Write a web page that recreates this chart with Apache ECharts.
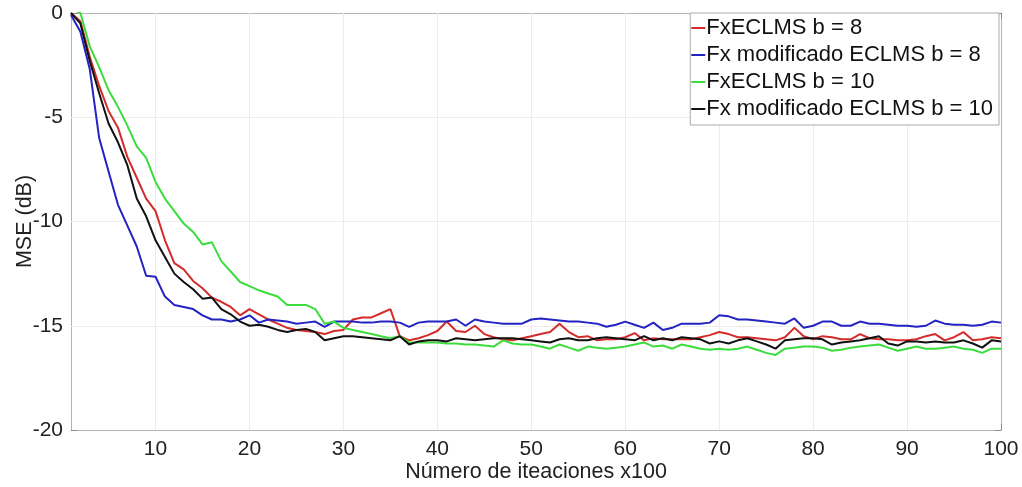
<!DOCTYPE html>
<html>
<head>
<meta charset="utf-8">
<script src="https://cdn.jsdelivr.net/npm/echarts@6/dist/echarts.min.js"></script>
<style>
  html, body { margin: 0; padding: 0; background: #fff; }
  #chart { width: 1022px; height: 487px; }
</style>
</head>
<body>
<div id="chart"></div>
<script>
// iteraciones (x100)
const iterations = Array.from({ length: 100 }, (_, i) => i + 1);
const xTicks = [10, 20, 30, 40, 50, 60, 70, 80, 90, 100];
const yTicks = [0, -5, -10, -15, -20];

const seriesNames = [
  'FxECLMS b = 8',
  'Fx modificado ECLMS b = 8',
  'FxECLMS b = 10',
  'Fx modificado ECLMS b = 10'
];

// MSE (dB)
const fxB8 = [
  0, -0.4, -2.1, -3.5, -4.7, -5.5, -6.9, -7.9, -8.9, -9.5,
  -10.9, -12.0, -12.3, -12.85, -13.2, -13.65, -13.85, -14.1, -14.5, -14.2,
  -14.45, -14.7, -14.9, -15.1, -15.2, -15.25, -15.3, -15.4, -15.25, -15.2,
  -14.7, -14.6, -14.6, -14.4, -14.2, -15.5, -15.7, -15.6, -15.45, -15.25,
  -14.8, -15.25, -15.3, -15.0, -15.4, -15.55, -15.65, -15.7, -15.6, -15.5,
  -15.4, -15.3, -14.9, -15.3, -15.55, -15.5, -15.7, -15.65, -15.65, -15.55,
  -15.35, -15.7, -15.6, -15.65, -15.65, -15.65, -15.65, -15.55, -15.45, -15.3,
  -15.4, -15.55, -15.55, -15.6, -15.65, -15.7, -15.55, -15.1, -15.5, -15.65,
  -15.5, -15.55, -15.65, -15.65, -15.4, -15.6, -15.65, -15.65, -15.7, -15.7,
  -15.65, -15.5, -15.4, -15.7, -15.55, -15.3, -15.7, -15.65, -15.55, -15.6
];
const modB8 = [
  -0.1, -0.9, -2.7, -6.0, -7.6, -9.2, -10.2, -11.2, -12.6, -12.65,
  -13.6, -14.0, -14.1, -14.2, -14.5, -14.7, -14.7, -14.8, -14.7, -14.5,
  -14.85, -14.7, -14.75, -14.8, -14.9, -14.85, -14.8, -15.05, -14.8, -14.8,
  -14.8, -14.85, -14.85, -14.8, -14.8, -14.85, -15.05, -14.85, -14.8, -14.8,
  -14.8, -14.7, -15.0, -14.7, -14.8, -14.85, -14.9, -14.9, -14.9, -14.7,
  -14.65, -14.7, -14.75, -14.8, -14.8, -14.85, -14.9, -15.05, -14.95, -14.8,
  -14.95, -15.1, -14.85, -15.2, -15.1, -14.9, -14.9, -14.9, -14.85, -14.5,
  -14.55, -14.7, -14.7, -14.75, -14.8, -14.85, -14.9, -14.65, -15.1, -15.0,
  -14.8, -14.8, -15.0, -15.0, -14.8, -14.9, -14.9, -14.95, -15.0, -15.0,
  -15.05, -15.0, -14.75, -14.9, -14.95, -14.95, -15.0, -14.95, -14.8, -14.85
];
const fxB10 = [
  0.2, 0.0, -1.6, -2.6, -3.7, -4.5, -5.4, -6.4, -6.95, -8.1,
  -8.9, -9.5, -10.1, -10.5, -11.1, -11.0, -11.9, -12.4, -12.9, -13.1,
  -13.3, -13.45, -13.6, -14.0, -14.0, -14.0, -14.2, -14.9, -14.8, -15.1,
  -15.2, -15.3, -15.4, -15.5, -15.6, -15.5, -15.8, -15.8, -15.8, -15.8,
  -15.85, -15.85, -15.9, -15.9, -15.95, -16.0, -15.7, -15.85, -15.9, -15.9,
  -16.0, -16.1, -15.9, -16.05, -16.2, -16.0, -16.05, -16.1, -16.05, -16.0,
  -15.9, -15.8, -16.0, -15.95, -16.1, -15.9, -16.0, -16.1, -16.15, -16.1,
  -16.15, -16.1, -16.0, -16.15, -16.3, -16.4, -16.1, -16.05, -16.0, -16.0,
  -16.05, -16.2, -16.15, -16.05, -16.0, -15.95, -15.9, -16.05, -16.2, -16.1,
  -16.0, -16.1, -16.1, -16.05, -16.0, -16.1, -16.15, -16.3, -16.1, -16.1
];
const modB10 = [
  0, -0.5, -2.3, -3.85, -5.3, -6.2, -7.3, -8.9, -9.75, -10.9,
  -11.7, -12.5, -12.9, -13.25, -13.7, -13.65, -14.2, -14.45, -14.8, -15.0,
  -14.95, -15.05, -15.2, -15.3, -15.2, -15.15, -15.3, -15.7, -15.6, -15.5,
  -15.5, -15.55, -15.6, -15.65, -15.7, -15.5, -15.9, -15.75, -15.7, -15.7,
  -15.75, -15.6, -15.65, -15.7, -15.65, -15.6, -15.6, -15.6, -15.65, -15.7,
  -15.75, -15.8, -15.65, -15.6, -15.7, -15.7, -15.6, -15.55, -15.6, -15.65,
  -15.7, -15.5, -15.7, -15.6, -15.7, -15.55, -15.6, -15.65, -15.85, -15.75,
  -15.85, -15.7, -15.6, -15.75, -15.9, -16.1, -15.7, -15.65, -15.6, -15.6,
  -15.65, -15.9, -15.8, -15.75, -15.7, -15.6, -15.5, -15.85, -15.95, -15.75,
  -15.75, -15.8, -15.75, -15.8, -15.8, -15.7, -15.85, -16.05, -15.7, -15.75
];

const colors = ['#d42b2b', '#2323c4', '#3ddc3d', '#111111'];
const allData = [fxB8, modB8, fxB10, modB10];

const font = '"Liberation Sans", Arial, sans-serif';
const axisGray = '#b4b4b4';
const gridGray = '#ececec';

const chart = echarts.init(document.getElementById('chart'), null, { renderer: 'canvas' });

function xAxisCfg(pos, showLabels) {
  return {
    type: 'value',
    position: pos,
    min: 1,
    max: 100,
    axisLine: { show: true, onZero: false, lineStyle: { color: axisGray, width: 1 } },
    axisTick: { show: true, inside: true, length: 6, customValues: xTicks, lineStyle: { color: '#888' } },
    axisLabel: {
      show: showLabels, customValues: xTicks, color: '#222',
      fontSize: 21, fontFamily: font, margin: 9
    },
    splitLine: { show: false },
    name: showLabels ? 'Número de iteaciones x100' : '',
    nameLocation: 'middle',
    nameGap: 31,
    nameMoveOverlap: false,
    nameTextStyle: { color: '#222', fontSize: 21.5, fontFamily: font }
  };
}

function yAxisCfg(pos, showLabels) {
  return {
    type: 'value',
    position: pos,
    min: -20,
    max: 0,
    interval: 5,
    axisLine: { show: true, onZero: false, lineStyle: { color: axisGray, width: 1 } },
    axisTick: { show: true, inside: true, length: 6, lineStyle: { color: '#888' } },
    axisLabel: {
      show: showLabels, color: '#222', fontSize: 21, fontFamily: font, margin: 8
    },
    splitLine: { show: false },
    name: showLabels ? 'MSE (dB)' : '',
    nameLocation: 'middle',
    nameGap: 35,
    nameMoveOverlap: false,
    nameTextStyle: { color: '#222', fontSize: 21.5, fontFamily: font }
  };
}

// rejilla dibujada como markLine sobre los ticks
const gridLines = xTicks.slice(0, -1).map(v => ({ xAxis: v }))
  .concat(yTicks.slice(1, -1).map(v => ({ yAxis: v })));

const series = seriesNames.map((name, i) => ({
  name: name,
  type: 'line',
  data: iterations.map((x, k) => [x, allData[i][k]]),
  showSymbol: false,
  symbol: 'none',
  lineStyle: { color: colors[i], width: 2 },
  itemStyle: { color: colors[i] },
  z: 3 + i,
  animation: false
}));
series[0].markLine = {
  silent: true,
  symbol: 'none',
  label: { show: false },
  lineStyle: { color: gridGray, type: 'solid', width: 1 },
  data: gridLines,
  z: 1,
  animation: false
};

chart.setOption({
  backgroundColor: '#fff',
  animation: false,
  color: colors,
  textStyle: { fontFamily: font },
  grid: { left: 71, right: 21, top: 13, bottom: 57, outerBoundsMode: 'none' },
  xAxis: [xAxisCfg('bottom', true), xAxisCfg('top', false)],
  yAxis: [yAxisCfg('left', true), yAxisCfg('right', false)],
  legend: {
    orient: 'vertical',
    right: 23,
    top: 13,
    padding: [4, 6, 5, 1],
    itemGap: 5,
    itemWidth: 14,
    itemHeight: 2,
    icon: 'rect',
    backgroundColor: '#fff',
    borderColor: '#aaa',
    borderWidth: 1,
    borderRadius: 0,
    textStyle: { color: '#111', fontSize: 22, fontFamily: font, padding: [0, 0, 0, -4] },
    data: seriesNames
  },
  series: series
});
</script>
</body>
</html>
